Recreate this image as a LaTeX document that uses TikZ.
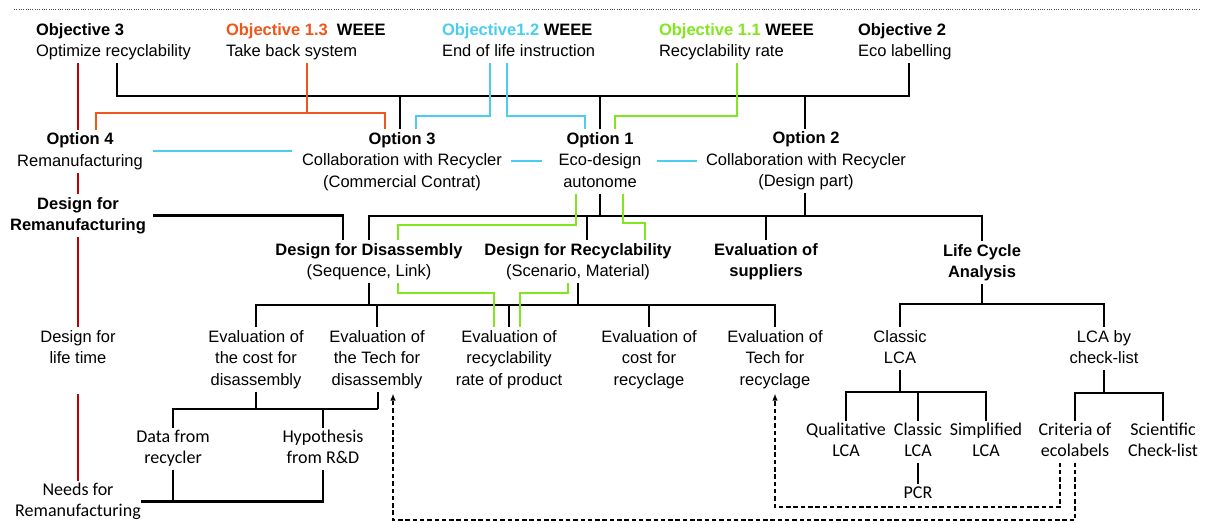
\documentclass[tikz,border=0pt]{standalone}
\usepackage{fontspec}
\setmainfont{Liberation Sans}
\newfontfamily\calfont{Carlito}
\usetikzlibrary{arrows.meta}
\definecolor{wOrange}{RGB}{240,85,25}
\definecolor{wCyan}{RGB}{75,205,240}
\definecolor{wGreen}{RGB}{130,230,30}
\definecolor{wRed}{RGB}{192,0,0}
\begin{document}
\begin{tikzpicture}[x=1pt,y=-1pt,
  txt/.style={inner sep=0pt, outer sep=0pt, align=center, anchor=north, font=\fontsize{16.5}{21.5}\selectfont},
  txtl/.style={txt, align=left, anchor=north west},
  cal/.style={inner sep=0pt, outer sep=0pt, align=center, anchor=north, font=\calfont\fontsize{18}{21}\selectfont},
  blk/.style={line width=2.4pt, black},
  org/.style={line width=2pt, wOrange},
  cyn/.style={line width=2pt, wCyan},
  grn/.style={line width=2pt, wGreen},
  redl/.style={line width=1.6pt, wRed},
  dsh/.style={line width=1.5pt, black, dash pattern=on 4.5pt off 2.8pt, -{Latex[length=7pt,width=5.5pt]}, shorten >=2pt},
  dotl/.style={line width=1pt, black!70, dash pattern=on 1pt off 1.3pt},
]
\fill[white] (0,0) rectangle (1206,523);
\path[use as bounding box] (0,0) rectangle (1206,523);

% top dotted rule
\coordinate (rulel) at (14,9);
\coordinate (ruler) at (1200,9);
\draw[dotl] (rulel) -- (ruler);

% ---------- objectives ----------
\node[txtl] (obj3)  at (36,20)  {\strut\textbf{Objective 3}\\\strut Optimize recyclability};
\node[txtl] (obj13) at (226,20) {\strut\textbf{\textcolor{wOrange}{Objective 1.3}\ \ WEEE}\\\strut Take back system};
\node[txtl] (obj12) at (442,20) {\strut\textbf{\textcolor{wCyan}{Objective1.2} WEEE}\\\strut End of life instruction};
\node[txtl] (obj11) at (659,20) {\strut\textbf{\textcolor{wGreen}{Objective 1.1} WEEE}\\\strut Recyclability rate};
\node[txtl] (obj2)  at (858,20) {\strut\textbf{Objective 2}\\\strut Eco labelling};

% ---------- options ----------
\node[txt] (opt4) at (80,129.5) {\strut\textbf{Option 4}\\\strut Remanufacturing};
\node[txt] (opt3) at (402,129) {\strut\textbf{Option 3}\\\strut Collaboration with Recycler\\\strut (Commercial Contrat)};
\node[txt] (opt1) at (600,129) {\strut\textbf{Option 1}\\\strut Eco-design\\\strut autonome};
\node[txt] (opt2) at (806,128.5) {\strut\textbf{Option 2}\\\strut Collaboration with Recycler\\\strut (Design part)};

% ---------- left column ----------
\node[txt] (dfrm) at (78,194) {\strut\textbf{Design for}\\\strut\textbf{Remanufacturing}};
\node[txt] (dflt) at (78,327) {\strut Design for\\\strut life time};
\node[cal] (needs) at (78,480.5) {\strut Needs for\\\strut Remanufacturing};

% ---------- level 2 ----------
\node[txt] (dfd) at (369,240) {\strut\textbf{Design for Disassembly}\\\strut (Sequence, Link)};
\node[txt] (dfr) at (578,240) {\strut\textbf{Design for Recyclability}\\\strut (Scenario, Material)};
\node[txt] (evs) at (766,240) {\strut\textbf{Evaluation of}\\\strut\textbf{suppliers}};
\node[txt] (lca) at (982,241) {\strut\textbf{Life Cycle}\\\strut\textbf{Analysis}};

% ---------- level 3 ----------
\node[txt] (e1) at (256,327) {\strut Evaluation of\\\strut the cost for\\\strut disassembly};
\node[txt] (e2) at (377,327) {\strut Evaluation of\\\strut the Tech for\\\strut disassembly};
\node[txt] (e3) at (509,327) {\strut Evaluation of\\\strut recyclability\\\strut rate of product};
\node[txt] (e4) at (649,327) {\strut Evaluation of\\\strut cost for\\\strut recyclage};
\node[txt] (e5) at (775,327) {\strut Evaluation of\\\strut Tech for\\\strut recyclage};
\node[txt] (classic) at (900,327) {\strut Classic\\\strut LCA};
\node[txt] (bycheck) at (1104,327) {\strut LCA by\\\strut check-list};

% ---------- level 4 ----------
\node[cal] (data) at (173,427.5) {\strut Data from\\\strut recycler};
\node[cal] (hyp)  at (323,427.5) {\strut Hypothesis\\\strut from R\&D};
\node[cal] (qual) at (846,420.5) {\strut Qualitative\\\strut LCA};
\node[cal] (clas2) at (918,420.5) {\strut Classic\\\strut LCA};
\node[cal] (simp) at (986,420.5) {\strut Simplified\\\strut LCA};
\node[cal] (pcr) at (918,483.5) {\strut PCR};
\node[cal] (crit) at (1075,420.5) {\strut Criteria of\\\strut ecolabels};
\node[cal] (sci) at (1163,420.5) {\strut Scientific\\\strut Check-list};

% ---------- red axis ----------
\coordinate (redstart) at (78,394);
\draw[redl] (78,0 |- obj3.south) -- (78,0 |- opt4.north);
\draw[redl] (78,0 |- opt4.south) -- (dfrm.north);
\draw[redl] (dfrm.south) -- (dflt.north);
\draw[redl] (redstart) -- (needs.north);

% ---------- objectives to options ----------
\draw[blk] (117,0 |- obj3.south) -- (117,96) -- (909,96) -- (909,0 |- obj2.south);
\draw[blk] (400,96) -- (400,0 |- opt3.north);
\draw[blk] (600,96) -- (opt1.north);
\draw[blk] (805,96) -- (805,0 |- opt2.north);

\draw[org] (307,0 |- obj13.south) -- (307,113);
\draw[org] (96,0 |- opt4.north) -- (96,113) -- (385,113) -- (385,0 |- opt3.north);

\draw[cyn] (490,0 |- obj12.south) -- (490,116) -- (416,116) -- (416,0 |- opt3.north);
\draw[cyn] (507,0 |- obj12.south) -- (507,116) -- (585,116) -- (585,0 |- opt1.north);

\draw[grn] (737,0 |- obj11.south) -- (737,116) -- (615,116) -- (615,0 |- opt1.north);

% cyan links between options
\draw[cyn] ([xshift=10pt]opt4.east) -- ([xshift=-10pt]opt3.west |- opt4.east);
\draw[cyn] ([xshift=9pt]opt3.east) -- ([xshift=-17pt]opt1.west |- opt3.east);
\draw[cyn] ([xshift=16pt]opt1.east) -- ([xshift=-9pt]opt2.west |- opt1.east);

% ---------- options to level 2 ----------
\draw[blk] ([xshift=7pt]dfrm.east) -| (343,0 |- dfd.north);
\draw[blk] (opt1.south) -- (600,216);
\draw[blk] (805,0 |- opt2.south) -- (805,216);
\draw[blk] (dfd.north) |- (982,216) -- (lca.north);
\draw[blk] (587,216) -- (587,0 |- dfr.north);
\draw[blk] (evs.north) -- (766,216);

\draw[grn] (576,0 |- opt1.south) -- (576,225) -- (398,225) -- (398,0 |- dfd.north);
\draw[grn] (623,0 |- opt1.south) -- (623,223) -- (645,223) -- (645,0 |- dfr.north);

% ---------- level 2 to level 3 ----------
\draw[blk] (dfd.south) -- (369,305);
\draw[blk] (dfr.south) -- (578,305);
\draw[blk] (e1.north) -- (256,305) -- (775,305) -- (e5.north);
\draw[blk] (377,305) -- (e2.north);
\draw[blk] (509,305) -- (e3.north);
\draw[blk] (649,305) -- (e4.north);

\draw[grn] (398,0 |- dfd.south) -- (398,293) -- (494,293) -- (494,0 |- e3.north);
\draw[grn] (568,0 |- dfr.south) -- (568,293) -- (520,293) -- (520,0 |- e3.north);

% ---------- disassembly evaluations to data ----------
\draw[blk] (e1.south) -- (256,409);
\draw[blk] (378,0 |- e2.south) -- (378,409);
\draw[blk] (data.north) -- (173,409) -- (378,409);
\draw[blk] (hyp.north) -- (hyp.north |- 0,409);
\draw[blk] (needs.east) -| (hyp.south);
\draw[blk] (data.south) -- (data.south |- needs.east);

% ---------- LCA ----------
\draw[blk] (lca.south) -- (982,304);
\draw[blk] (classic.north) -- (classic.north |- 0,304) -- (bycheck.north |- 0,304) -- (bycheck.north);
\draw[blk] (classic.south) -- (classic.south |- 0,392);
\draw[blk] (qual.north) -- (qual.north |- 0,392) -- (simp.north |- 0,392) -- (simp.north);
\draw[blk] (clas2.north) -- (clas2.north |- 0,392);
\draw[blk] (clas2.south) -- (pcr.north);
\draw[blk] (bycheck.south) -- (bycheck.south |- 0,393);
\draw[blk] (crit.north) -- (crit.north |- 0,393) -- (sci.north |- 0,393) -- (sci.north);

% ---------- dashed feedback ----------
\draw[dsh] (1060,0 |- crit.south) -- (1060,507) -- (775,507) -- (775,0 |- e5.south);
\draw[dsh] (1075,0 |- crit.south) -- (1075,520) -- (393,520) -- (393,0 |- e2.south);
\end{tikzpicture}
\end{document}
